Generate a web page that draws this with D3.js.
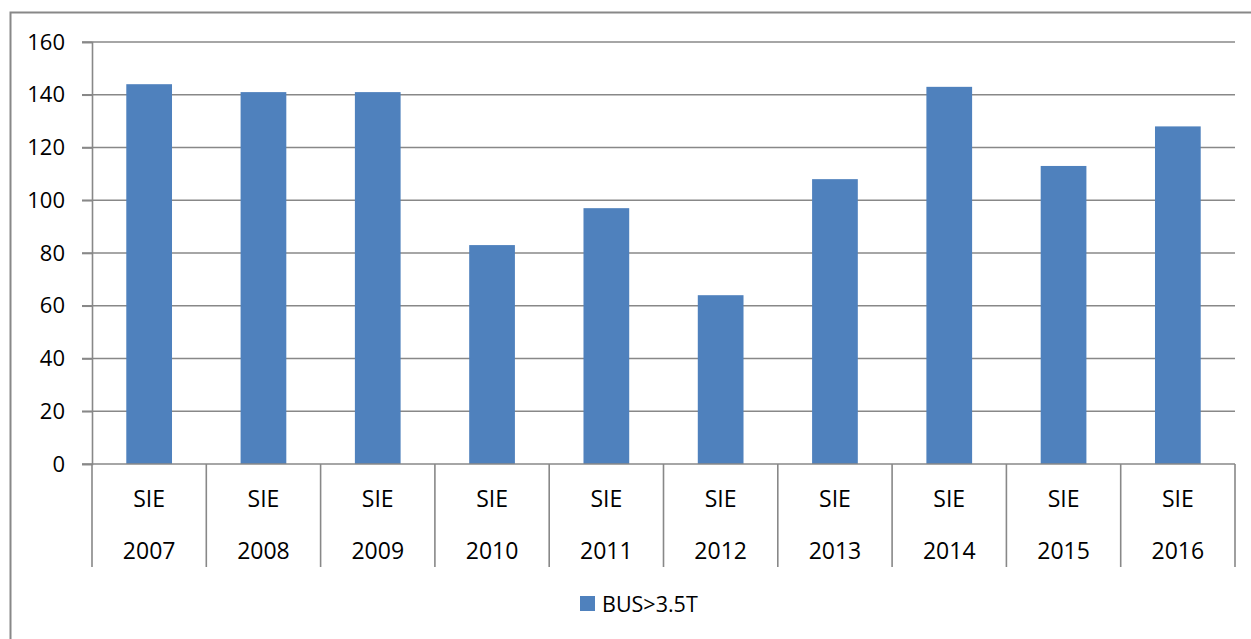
<!DOCTYPE html>
<html><head><meta charset="utf-8">
<script src="https://cdn.jsdelivr.net/npm/d3@7"></script>
<style>body{margin:0;background:#fff;} svg{display:block;}</style>
</head><body>
<svg id="c" width="1251" height="639"></svg>
<script>
const categories = ["2007","2008","2009","2010","2011","2012","2013","2014","2015","2016"];
const groupLabel = "SIE";
const values = [144,141,141,83,97,64,108,143,113,128];
const yTicks = [0,20,40,60,80,100,120,140,160];
const seriesName = "BUS>3.5T";

const svg = d3.select("#c");
const m = {left: 92, right: 1235, top: 42, bottom: 464};
const grey = "#888888", barColor = "#4f81bd";
const font = "'Open Sans', sans-serif";

// outer frame
svg.append("rect").attr("x",10.5).attr("y",12.5).attr("width",1300).attr("height",700)
  .attr("fill","none").attr("stroke",grey).attr("stroke-width",2);

const x = d3.scaleBand().domain(categories).range([m.left, m.right]).paddingInner(0).paddingOuter(0);
const y = d3.scaleLinear().domain([0,160]).range([m.bottom, m.top]);

// gridlines
svg.append("g").selectAll("line").data(yTicks.filter(d=>d>0)).join("line")
  .attr("x1", m.left-10).attr("x2", m.right)
  .attr("y1", d=>y(d)).attr("y2", d=>y(d))
  .attr("stroke", grey).attr("stroke-width",1.6);

// bars
const bw = x.bandwidth()*0.4;
svg.append("g").selectAll("rect").data(values).join("rect")
  .attr("x", (d,i)=>x(categories[i]) + (x.bandwidth()-bw)/2)
  .attr("width", bw)
  .attr("y", d=>y(d))
  .attr("height", d=>y(0)-y(d))
  .attr("fill", barColor);

// y axis
const ya = d3.axisLeft(y).tickValues(yTicks).tickSize(10).tickPadding(17);
const yg = svg.append("g").attr("transform",`translate(${m.left},0)`).call(ya);
yg.select(".domain").attr("stroke",grey).attr("stroke-width",1.6);
yg.selectAll(".tick line").attr("stroke",grey).attr("stroke-width",1.6);
yg.selectAll("text").attr("font-family",font).attr("font-size",22).attr("fill","#000");

// x axis baseline
svg.append("line").attr("x1",m.left-10).attr("x2",m.right).attr("y1",y(0)).attr("y2",y(0))
  .attr("stroke",grey).attr("stroke-width",1.6);
// category separators
const seps = categories.map(c=>x(c)).concat([m.right]);
svg.append("g").selectAll("line").data(seps).join("line")
  .attr("x1",d=>d).attr("x2",d=>d).attr("y1",y(0)).attr("y2",567)
  .attr("stroke",grey).attr("stroke-width",1.6);

const xl = svg.append("g").attr("font-family",font).attr("fill","#000").attr("text-anchor","middle");
xl.selectAll("text.g").data(categories).join("text").attr("class","g")
  .attr("x",d=>x(d)+x.bandwidth()/2).attr("y",507).attr("font-size",23).text(groupLabel);
xl.selectAll("text.yr").data(categories).join("text").attr("class","yr")
  .attr("x",d=>x(d)+x.bandwidth()/2).attr("y",559).attr("font-size",23).text(d=>d);

// legend
const lg = svg.append("g").attr("transform","translate(580,596)");
lg.append("rect").attr("width",15).attr("height",15).attr("fill",barColor);
lg.append("text").attr("x",22).attr("y",16).attr("font-family",font).attr("font-size",21.5).attr("fill","#000").text(seriesName);
</script>
</body></html>
